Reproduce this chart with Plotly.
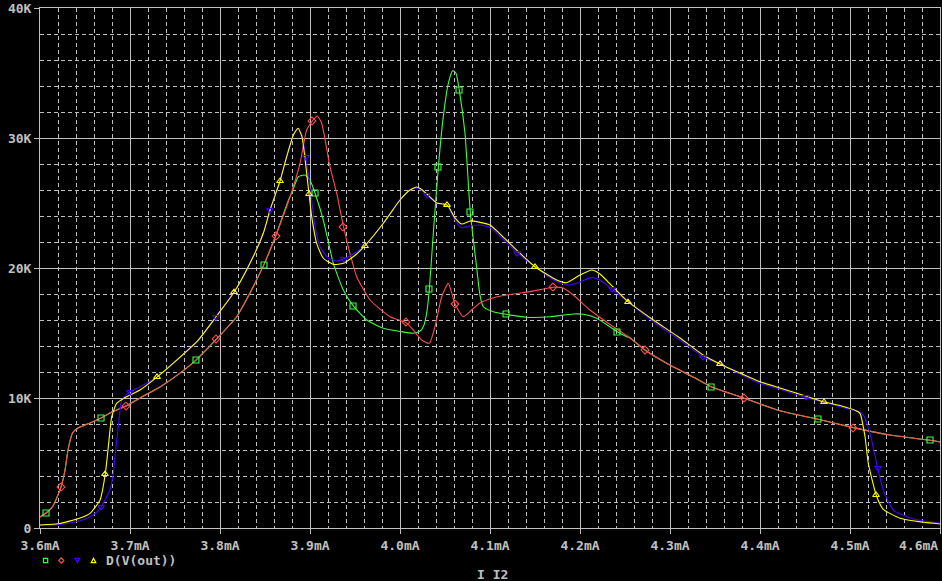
import plotly.graph_objects as go

# ---------------- data (x in mA, y in K) ----------------
red_x = [3.6, 3.6067, 3.6144, 3.6233, 3.6278, 3.6311, 3.6363, 3.6422, 3.6556, 3.6678, 3.6778, 3.6956, 3.7111,
         3.7333, 3.7533, 3.7733, 3.7963, 3.8185, 3.8333, 3.8489, 3.8619, 3.8778, 3.8889, 3.8963, 3.9026, 3.9081,
         3.913, 3.9222, 3.9297, 3.937, 3.9444, 3.9519, 3.9667, 3.9889, 4.0063, 4.0148, 4.0241, 4.0326, 4.0389,
         4.0463, 4.0537, 4.0611, 4.0703, 4.0796, 4.0889, 4.1033, 4.1185, 4.1444, 4.1703, 4.1811, 4.1926, 4.2111,
         4.237, 4.2556, 4.2726, 4.2963, 4.3333, 4.3459, 4.3826, 4.4222, 4.4648, 4.5037, 4.5444, 4.5892, 4.6]
red_y = [0.85, 1.15, 1.69, 3.15, 4.46, 6.0, 7.33, 7.69, 8.08, 8.46, 8.85, 9.38, 10.0, 10.85, 11.8, 12.92, 14.54,
         16.25, 18.08, 20.28, 22.48, 25.48, 28.05, 30.62, 31.31, 31.69, 31.13, 27.79, 25.74, 23.25, 21.13, 19.33,
         17.54, 16.25, 15.82, 15.23, 14.46, 14.21, 15.49, 17.79, 18.82, 17.23, 16.25, 16.77, 17.31, 17.69, 17.92,
         18.18, 18.52, 18.46, 17.92, 16.77, 15.48, 14.62, 13.67, 12.67, 11.33, 10.87, 9.98, 9.02, 8.36, 7.72,
         7.15, 6.75, 6.62]

# green follows red outside this middle section
green_mid_x = [3.8759, 3.8796, 3.887, 3.8944, 3.9, 3.9056, 3.9148, 3.9259, 3.937, 3.9481, 3.963, 3.9815, 4.0,
               4.0148, 4.0222, 4.0259, 4.0296, 4.0326, 4.037, 4.0426, 4.0481, 4.0537, 4.0585, 4.0622, 4.0659,
               4.0722, 4.0781, 4.0844, 4.0889, 4.0926, 4.1037, 4.1178, 4.1407, 4.1667, 4.1926, 4.2037, 4.2185,
               4.2414, 4.2519]
green_mid_y = [25.2, 25.74, 27.02, 27.15, 26.77, 25.75, 23.69, 20.36, 18.31, 17.08, 16.0, 15.36, 15.12, 14.98,
               15.15, 15.48, 16.51, 18.38, 22.67, 27.75, 31.64, 34.21, 35.18, 34.98, 33.67, 30.36, 24.28, 20.5,
               17.9, 17.02, 16.64, 16.44, 16.21, 16.25, 16.46, 16.44, 16.13, 15.1, 14.72]

blue_x = [3.6, 3.6222, 3.6444, 3.6556, 3.6633, 3.6678, 3.6722, 3.6778, 3.6815, 3.6833, 3.687, 3.6907, 3.6944,
          3.7, 3.7111, 3.7296, 3.7519, 3.7759, 3.7956, 3.8156, 3.8333, 3.8481, 3.8556, 3.8667, 3.8741, 3.8815,
          3.8867, 3.8911, 3.8952, 3.8981, 3.9019, 3.9056, 3.9111, 3.9204, 3.9296, 3.937, 3.9519, 3.9611, 3.9815,
          4.0, 4.0111, 4.0185, 4.0233, 4.03, 4.0407, 4.0481, 4.053, 4.0611, 4.0685, 4.0778, 4.0889, 4.1, 4.1111,
          4.1303, 4.15, 4.1741, 4.1889, 4.2, 4.213, 4.2222, 4.2356, 4.2533, 4.2815, 4.3111, 4.3367, 4.3556, 4.4,
          4.4222, 4.4508, 4.4714, 4.4889, 4.5074, 4.5148, 4.5222, 4.5308, 4.537, 4.5481, 4.5703, 4.6]
blue_y = [0.23, 0.28, 0.56, 0.87, 1.23, 1.59, 2.15, 2.92, 4.21, 5.48, 7.79, 9.85, 10.15, 10.48, 10.87, 11.59,
          12.92, 14.46, 16.25, 18.13, 20.36, 22.67, 24.46, 26.69, 28.56, 30.23, 30.75, 30.23, 28.56, 27.28, 25.23,
          23.18, 21.64, 20.75, 20.54, 20.69, 21.25, 21.72, 23.44, 25.23, 26.0, 26.15, 26.0, 25.62, 24.98, 24.92,
          24.77, 23.69, 23.1, 23.23, 23.31, 23.12, 22.46, 21.18, 20.1, 18.95, 18.69, 18.92, 19.28, 19.08, 18.38,
          17.41, 15.87, 14.46, 13.18, 12.59, 11.13, 10.67, 10.05, 9.67, 9.33, 9.0, 8.69, 7.28, 4.59, 2.92, 1.38,
          0.69, 0.36]

yellow_x = [3.6, 3.6222, 3.6444, 3.6556, 3.6667, 3.6726, 3.6759, 3.6797, 3.6852, 3.6963, 3.7111, 3.7296, 3.7519,
            3.7759, 3.7956, 3.8156, 3.8333, 3.8481, 3.8556, 3.8667, 3.8741, 3.8815, 3.8867, 3.8911, 3.8963,
            3.8989, 3.9019, 3.9074, 3.9148, 3.9259, 3.937, 3.9519, 3.9611, 3.9815, 4.0, 4.0111, 4.0185, 4.0233,
            4.03, 4.0407, 4.0481, 4.053, 4.0611, 4.0685, 4.0778, 4.0889, 4.1, 4.1111, 4.1303, 4.15, 4.1741,
            4.1852, 4.2, 4.213, 4.2222, 4.2356, 4.2533, 4.2815, 4.3111, 4.3367, 4.3556, 4.4, 4.4222, 4.4508,
            4.4714, 4.4889, 4.5074, 4.5111, 4.5167, 4.5203, 4.5292, 4.537, 4.5556, 4.5815, 4.6]
yellow_y = [0.23, 0.35, 0.77, 1.13, 2.15, 4.18, 6.25, 8.56, 9.59, 10.1, 10.62, 11.59, 12.92, 14.46, 16.25,
            18.13, 20.36, 22.67, 24.46, 26.69, 28.56, 30.23, 30.75, 30.08, 27.28, 25.69, 23.95, 21.9, 20.75,
            20.28, 20.36, 21.08, 21.72, 23.44, 25.23, 26.0, 26.23, 26.08, 25.69, 25.0, 24.92, 24.82, 23.85,
            23.38, 23.62, 23.51, 23.31, 22.62, 21.33, 20.1, 19.08, 18.87, 19.46, 19.85, 19.54, 18.62, 17.41,
            16.0, 14.62, 13.31, 12.62, 11.25, 10.77, 10.15, 9.69, 9.42, 9.0, 8.82, 7.02, 4.98, 2.52, 1.44, 0.75,
            0.44, 0.31]

# trace markers
green_mk_x = [3.6067, 3.6678, 3.7733, 3.8489, 3.9056, 3.9478, 4.0322, 4.0422, 4.0656, 4.0778, 4.1178, 4.2411,
              4.3456, 4.4644, 4.5889]
green_mk_y = [1.15, 8.46, 12.92, 20.23, 25.77, 17.08, 18.38, 27.77, 33.69, 24.31, 16.46, 15.08, 10.85, 8.38, 6.77]
red_mk_x = [3.6233, 3.6956, 3.7956, 3.8622, 3.9022, 3.9367, 4.0067, 4.0611, 4.17, 4.2722, 4.3822, 4.5033]
red_mk_y = [3.15, 9.38, 14.54, 22.46, 31.31, 23.15, 15.85, 17.23, 18.54, 13.69, 10.0, 7.69]
blue_mk_x = [3.6678, 3.7, 3.7956, 3.8556, 3.8956, 3.9378, 4.03, 4.13, 4.2356, 4.3367, 4.4511, 4.5311]
blue_mk_y = [1.62, 10.46, 16.23, 24.46, 28.54, 20.69, 25.62, 21.15, 18.38, 13.15, 10.08, 4.62]
yellow_mk_x = [3.6722, 3.73, 3.8156, 3.8667, 3.8989, 3.9611, 4.0522, 4.15, 4.2533, 4.3556, 4.4711, 4.5289]
yellow_mk_y = [4.15, 11.62, 18.15, 26.69, 25.69, 21.69, 24.85, 20.08, 17.38, 12.62, 9.69, 2.54]

x_tick_vals = [3.6, 3.7, 3.8, 3.9, 4.0, 4.1, 4.2, 4.3, 4.4, 4.5, 4.6]
x_tick_text = ["3.6mA", "3.7mA", "3.8mA", "3.9mA", "4.0mA", "4.1mA", "4.2mA", "4.3mA", "4.4mA", "4.5mA", "4.6mA"]
y_tick_vals = [0, 10, 20, 30, 40]
y_tick_text = ["0", "10K", "20K", "30K", "40K"]

legend_label = "D(V(out))"
x_title = "I I2"

# ---------------- build ----------------
green_x = [x for x in red_x if x < green_mid_x[0]] + green_mid_x + [x for x in red_x if x > green_mid_x[-1]]
green_y = ([y for x, y in zip(red_x, red_y) if x < green_mid_x[0]] + green_mid_y +
           [y for x, y in zip(red_x, red_y) if x > green_mid_x[-1]])

# minor (dashed) grid positions: 5 subdivisions per major step
x_minor = [round(3.6 + i * 0.02, 4) for i in range(51) if i % 5]
y_minor = [i * 2 for i in range(21) if i % 5]

# last x label is drawn right-aligned at the plot edge (as in the original)
axis_tick_text = x_tick_text[:-1] + [""]

GREEN = "#3cff3c"
RED = "#ff4c4c"
BLUE = "#4400ff"
YELLOW = "#ffff00"
GRAY = "#c0c0c0"
FONT = "DejaVu Sans Mono"

fig = go.Figure()
series = [
    (green_x, green_y, green_mk_x, green_mk_y, GREEN, "square-open"),
    (red_x, red_y, red_mk_x, red_mk_y, RED, "diamond-open"),
    (blue_x, blue_y, blue_mk_x, blue_mk_y, BLUE, "triangle-down-open"),
    (yellow_x, yellow_y, yellow_mk_x, yellow_mk_y, YELLOW, "triangle-up-open"),
]
for xs, ys, mx, my, col, sym in series:
    fig.add_trace(go.Scatter(x=xs, y=ys, mode="lines",
                             line=dict(color=col, width=1.1, shape="spline", smoothing=0.5),
                             showlegend=False, hoverinfo="skip"))
for xs, ys, mx, my, col, sym in series:
    fig.add_trace(go.Scatter(x=mx, y=my, mode="markers",
                             marker=dict(symbol=sym, size=6, color=col, line=dict(color=col, width=1.1)),
                             showlegend=False, hoverinfo="skip"))

# plot area geometry in pixels (for legend decorations)
L, R, T, B = 40, 940, 8, 528


def P(px, py):
    return (px - L) / (R - L), (B - py) / (B - T)


shapes = []
x0, y0 = P(43.5, 562.7)
x1, y1 = P(47.7, 558.3)
shapes.append(dict(type="rect", xref="paper", yref="paper", x0=x0, y0=y0, x1=x1, y1=y1,
                   line=dict(color=GREEN, width=1.2)))


def path(points):
    s = ""
    for i, (px, py) in enumerate(points):
        x, y = P(px, py)
        s += ("M" if i == 0 else "L") + f"{x:.5f},{y:.5f} "
    return s + "Z"


shapes.append(dict(type="path", xref="paper", yref="paper",
                   path=path([(61.3, 557.8), (63.9, 560.5), (61.3, 563.2), (58.7, 560.5)]),
                   line=dict(color=RED, width=1.1)))
shapes.append(dict(type="path", xref="paper", yref="paper",
                   path=path([(75.0, 558.3), (79.6, 558.3), (77.3, 562.6)]),
                   line=dict(color=BLUE, width=1.2)))
shapes.append(dict(type="path", xref="paper", yref="paper",
                   path=path([(91.2, 562.7), (95.8, 562.7), (93.5, 558.2)]),
                   line=dict(color=YELLOW, width=1.2)))

bold13 = dict(family=FONT, size=13, color=GRAY, weight="bold")
lx, ly = P(104, 560.5)
tx, ty = P(492, 574.5)
ex, ey = P(940, 545)
annotations = [
    dict(text=legend_label, xref="paper", yref="paper", x=lx, y=ly, xanchor="left", yanchor="middle",
         showarrow=False, font=bold13),
    dict(text=x_title, xref="paper", yref="paper", x=tx, y=ty, xanchor="center", yanchor="middle",
         showarrow=False, font=bold13),
    dict(text=x_tick_text[-1], xref="paper", yref="paper", x=ex, y=ey, xanchor="right", yanchor="middle",
         showarrow=False, font=bold13),
]

minor_style = dict(showgrid=True, gridcolor=GRAY, griddash="4px,3px", gridwidth=1, ticks="")
fig.update_layout(
    width=942, height=581,
    margin=dict(l=L, r=942 - R, t=T, b=581 - B, autoexpand=False),
    paper_bgcolor="black", plot_bgcolor="black",
    font=dict(family=FONT, color=GRAY, size=13),
    shapes=shapes, annotations=annotations,
    xaxis=dict(range=[3.6, 4.6], tickmode="array", tickvals=x_tick_vals, ticktext=axis_tick_text,
               automargin=False, ticklabeloverflow="allow",
               showgrid=True, gridcolor=GRAY, gridwidth=1,
               showline=True, linecolor=GRAY, linewidth=1, mirror=True,
               ticks="outside", ticklen=5, tickcolor=GRAY, zeroline=False,
               tickfont=bold13,
               minor=dict(tickmode="array", tickvals=x_minor, **minor_style)),
    yaxis=dict(range=[0, 40], tickmode="array", tickvals=y_tick_vals, ticktext=y_tick_text,
               automargin=False, ticklabeloverflow="allow",
               showgrid=True, gridcolor=GRAY, gridwidth=1,
               showline=True, linecolor=GRAY, linewidth=1, mirror=True,
               ticks="outside", ticklen=5, tickcolor=GRAY, zeroline=False,
               tickfont=bold13,
               minor=dict(tickmode="array", tickvals=y_minor, **minor_style)),
)

fig.write_html("out.html", config={"displayModeBar": False},
               post_script="document.body.style.margin='0';document.body.style.background='black';")
